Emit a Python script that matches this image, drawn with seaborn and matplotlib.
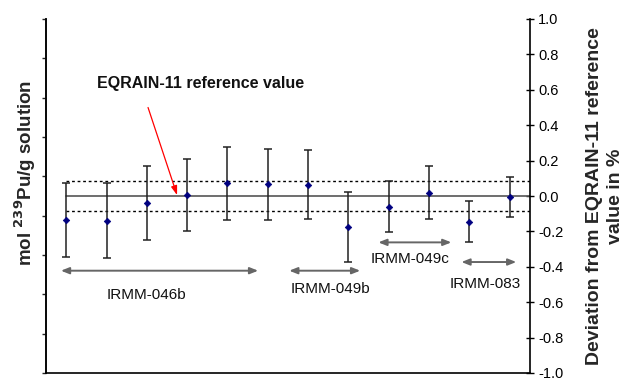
import numpy as np
import pandas as pd
import matplotlib
matplotlib.use("Agg")
import matplotlib.pyplot as plt
import seaborn as sns

# ---- data (deviation from EQRAIN-11 reference value, %) ----
sample = list(range(1, 13))
deviation = [-0.134, -0.139, -0.041, 0.006, 0.072, 0.066, 0.064, -0.175, -0.060, 0.019, -0.145, -0.004]
uncertainty = [0.210, 0.212, 0.210, 0.202, 0.205, 0.201, 0.195, 0.197, 0.145, 0.148, 0.114, 0.114]
ref_band = 0.083

groups = ["IRMM-046b", "IRMM-049b", "IRMM-049c", "IRMM-083"]
group_start = [0.87, 6.53, 8.74, 10.80]
group_end = [5.76, 8.29, 10.55, 12.16]
group_arrow_y = [-0.422, -0.422, -0.262, -0.373]
group_label_x = [3.0, 7.55, 9.53, 11.39]
group_label_y = [-0.559, -0.525, -0.356, -0.497]

right_ticks = [-1.0, -0.8, -0.6, -0.4, -0.2, 0.0, 0.2, 0.4, 0.6, 0.8, 1.0]

df = pd.DataFrame({"sample": sample, "deviation": deviation})

sns.set_theme(style="white")
plt.rcParams["font.family"] = ["Liberation Sans", "DejaVu Sans"]

fig = plt.figure(figsize=(6.26, 3.78), dpi=100)
ax = fig.add_axes([46 / 626, 1 - 373 / 378, (530 - 46) / 626, (373 - 19) / 378])

ax.set_xlim(0.5, 12.5)
ax.set_ylim(-1.0, 1.0)

# reference lines
ax.plot([1, 12.5], [0, 0], color="#555555", lw=1.2, zorder=1)
ax.plot([1, 12.5], [ref_band, ref_band], color="black", lw=1.0, ls=(0, (2, 2)), zorder=1)
ax.plot([1, 12.5], [-ref_band, -ref_band], color="black", lw=1.0, ls=(0, (2, 2)), zorder=1)

# error bars
ax.errorbar(sample, deviation, yerr=uncertainty, fmt="none", ecolor="#222222",
            elinewidth=1.1, capsize=3, capthick=1.1, zorder=2)
sns.scatterplot(data=df, x="sample", y="deviation", ax=ax, marker="D", s=11,
                color="#000080", edgecolor="#000080", linewidth=0.5, zorder=3, legend=False)

# group arrows & labels
for name, x0, x1, ya, lx, ly in zip(groups, group_start, group_end, group_arrow_y,
                                     group_label_x, group_label_y):
    ax.annotate("", xy=(x1, ya), xytext=(x0, ya),
                arrowprops=dict(arrowstyle="<|-|>,head_length=0.4,head_width=0.16",
                                color="#666666", lw=1.4, shrinkA=0, shrinkB=0))
    ax.text(lx, ly, name, ha="center", va="center", fontsize=11, color="#111111")

# reference value annotation
ax.annotate("", xy=(3.75, 0.005), xytext=(3.03, 0.50),
            arrowprops=dict(arrowstyle="-|>,head_length=0.45,head_width=0.15",
                            color="red", lw=0.9, shrinkA=0, shrinkB=0))
ax.text(4.32, 0.633, "EQRAIN-11 reference value", ha="center", va="center",
        fontsize=11.5, fontweight="bold", color="#111111")

# axes styling
ax.set_xlabel("")
ax.set_xticks([])
ax.spines["top"].set_visible(False)
for s in ["left", "right", "bottom"]:
    ax.spines[s].set_color("black")
    ax.spines[s].set_linewidth(1.2)

ax.yaxis.tick_right()
ax.yaxis.set_label_position("right")
ax.set_yticks(right_ticks)
ax.set_yticklabels([f"{t:.1f}" for t in right_ticks], fontsize=10.5)
ax.tick_params(axis="y", which="both", direction="inout", length=6, width=1, right=True,
               left=False, pad=3, colors="black")
ax.set_ylabel("Deviation from EQRAIN-11 reference\nvalue in %", fontsize=14,
              fontweight="bold", labelpad=16, linespacing=1.35)

# left (unlabelled) axis
sec = ax.secondary_yaxis("left")
sec.set_yticks(np.linspace(-1, 1, 10))
sec.set_yticklabels([])
sec.tick_params(direction="out", length=3, width=1)
sec.spines["left"].set_linewidth(1.2)
fig.text(25 / 626, 1 - 173 / 378, r"mol $^{\mathbf{239}}$Pu/g solution", rotation=90,
         ha="center", va="center", fontsize=13.5, fontweight="bold")

fig.savefig("out.png", dpi=100)
